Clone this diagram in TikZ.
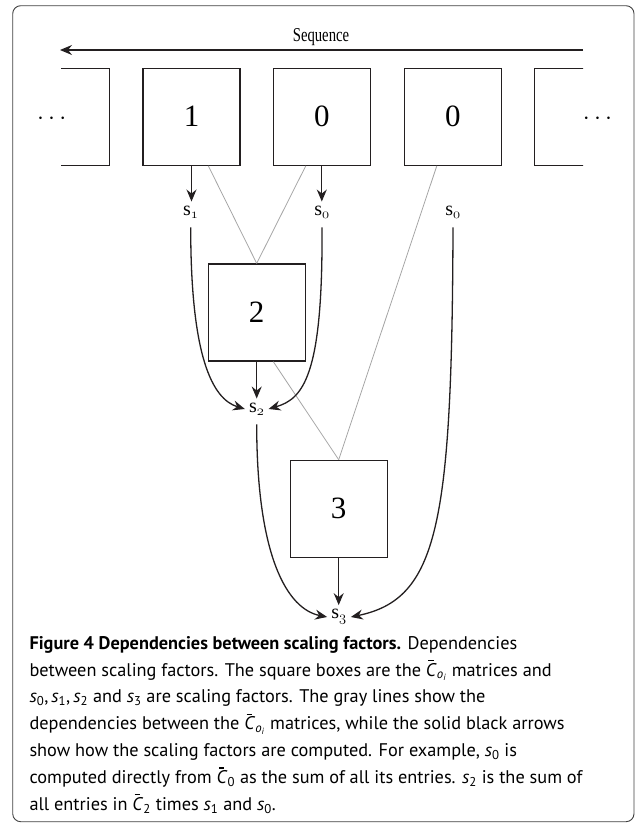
\documentclass[tikz,border=0pt]{standalone}
\usepackage{fontspec}
\setmainfont{Liberation Serif}
\newfontfamily\capfont{PT Sans}
\newfontfamily\seqfont[FakeStretch=0.75]{Liberation Serif}
\usetikzlibrary{arrows.meta}
\definecolor{ink}{HTML}{231F20}
\newcommand{\sv}[1]{\textit{s}\textsubscript{#1}}
\newcommand{\barC}{\makebox[0pt][l]{\raisebox{0.8em}{\kern0.12em\rule{0.3em}{0.07em}}}\textit{C}}
\newcommand{\Cb}[1]{\barC\textsubscript{#1}}
\newcommand{\Coi}{\Cb{\textit{o}\textsubscript{\textit{i}}}}
\begin{document}
\begin{tikzpicture}[x=1pt,y=-1pt,
  box/.style={draw=ink, line width=1.3pt, minimum size=97pt, inner sep=0pt,
    font=\fontsize{31}{31}\selectfont},
  lab/.style={inner sep=4pt, font=\fontsize{20}{22}\selectfont},
  arr/.style={draw=ink, line width=1.3pt, -{Stealth[length=12pt,width=10pt,inset=4pt]}},
  dep/.style={draw=black!35, line width=0.8pt},
  dots/.style={font=\fontsize{28}{28}\selectfont, inner sep=0pt}]
\useasboundingbox (0,0) rectangle (635,825);
% frame
\draw[draw=black!75, line width=0.9pt, rounded corners=8pt] (12.7,5.7) rectangle (634,821.7);
% sequence arrow
\node[font=\seqfont\fontsize{19.6}{20}\selectfont, anchor=base, inner sep=0pt] (seq) at (321,41.7) {Sequence};
\coordinate (aR) at (583,50);
\coordinate (aL) at (60,50);
\draw[arr, line width=1.2pt] (aR) -- (aL);
% top row
\node[box] (b1) at (191.5,116.7) {1};
\node[box] (b0a) at (321.8,116.7) {0};
\node[box] (b0b) at (452.8,116.7) {0};
\begin{scope}
  \clip (61,0) rectangle (583,300);
  \node[box] (bL) at (61,116.7) {};
  \node[box] (bR) at (583,116.7) {};
\end{scope}
\node[dots] (dL) at (51.7,119) {$\cdots$};
\node[dots] (dR) at (597.5,119) {$\cdots$};
% lower boxes
\node[box] (b2) at (256.7,312.5) {2};
\node[box] (b3) at (338.7,508.8) {3};
% labels
\node[lab] (s1) at (190.7,212) {$\mathrm{s}_{\mathnormal{1}}$};
\node[lab] (s0a) at (322,212) {$\mathrm{s}_{\mathnormal{0}}$};
\node[lab] (s0b) at (453,212) {$\mathrm{s}_{\mathnormal{0}}$};
\node[lab] (s2) at (256.7,409) {$\mathrm{s}_{\mathnormal{2}}$};
\node[lab] (s3) at (339,617) {$\mathrm{s}_{\mathnormal{3}}$};
% gray dependencies
\draw[dep] ([xshift=16.8pt]b1.south) -- (b2.north);
\draw[dep] ([xshift=-16pt]b0a.south) -- (b2.north);
\draw[dep] ([xshift=16.6pt]b2.south) -- (b3.north);
\draw[dep] ([xshift=-16pt]b0b.south) -- (b3.north);
% straight arrows
\draw[arr] (b1.south) -- (b1.south |- s1.north);
\draw[arr] (b0a.south) -- (b0a.south |- s0a.north);
\draw[arr] (b2.south) -- (b2.south |- s2.north);
\draw[arr] (b3.south) -- (b3.south |- s3.north);
% curved arrows
\draw[arr] ([yshift=-5pt]s1.south) .. controls +(0,128) and +(-33,-10) .. (s2.west);
\draw[arr] ([yshift=-5pt]s0a.south) .. controls +(1,150) and +(34,-10) .. (s2.east);
\draw[arr] ([yshift=-5pt]s2.south) .. controls +(0,132) and +(-40,-8) .. (s3.west);
\draw[arr] ([yshift=-5pt]s0b.south) .. controls +(-1,298) and +(87,-18) .. (s3.east);
% caption
\node[anchor=north west, inner sep=0pt, align=left,
  font=\capfont\fontsize{18.3}{26.8}\selectfont] (cap) at (29.3,636) {%
\textbf{Figure 4 Dependencies between scaling factors.} Dependencies\\
between scaling factors. The square boxes are the \Coi{} matrices and\\
\sv0,\,\sv1,\,\sv2 and \sv3 are scaling factors. The gray lines show the\\
dependencies between the \Coi{} matrices, while the solid black arrows\\
show how the scaling factors are computed. For example, \sv0 is\\
computed directly from \Cb0 as the sum of all its entries. \sv2 is the sum of\\
all entries in \Cb2 times \sv1 and \sv0.};
\end{tikzpicture}
\end{document}
